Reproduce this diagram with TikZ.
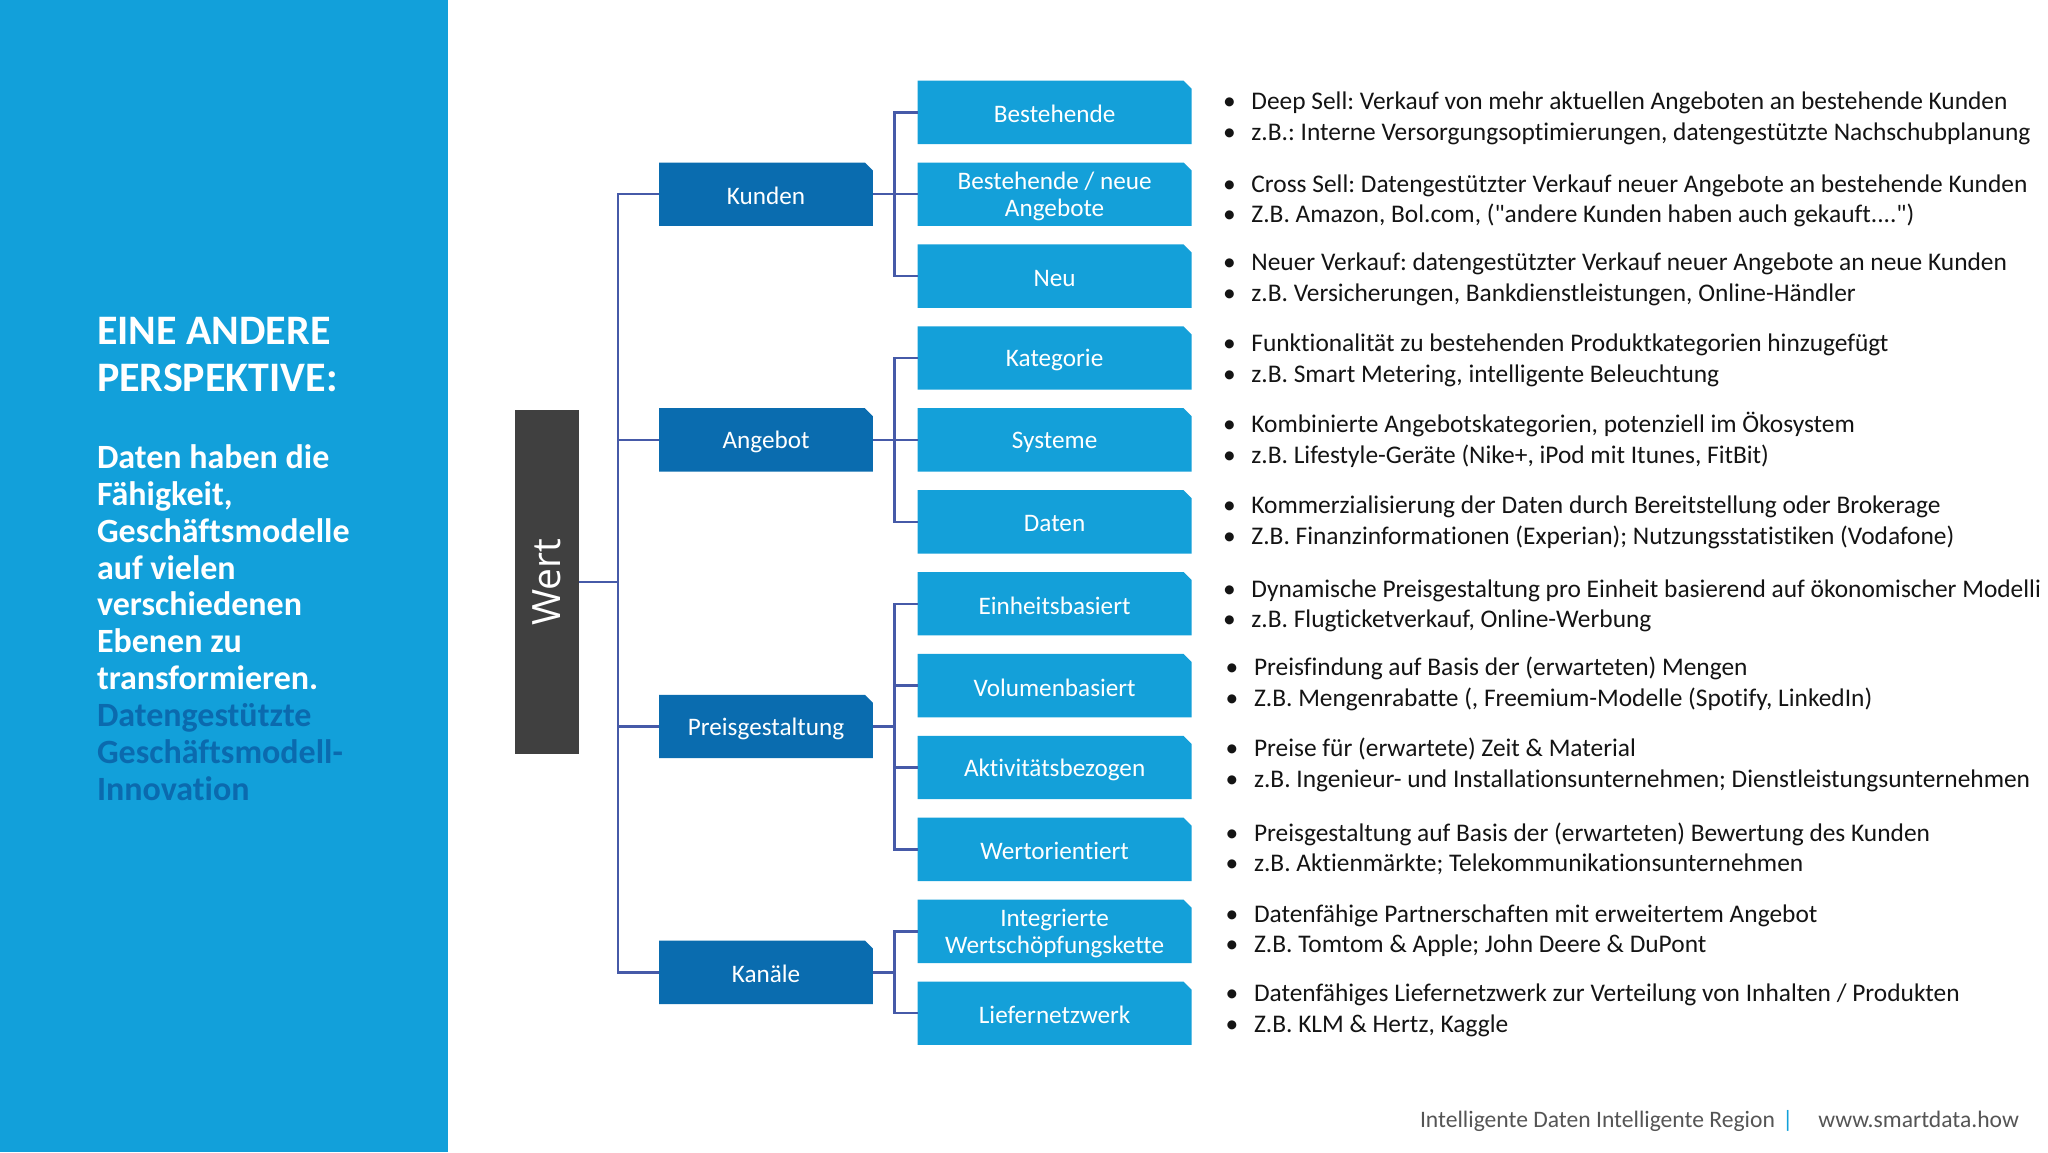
\documentclass[tikz,border=0pt]{standalone}
\usepackage{fontspec}
\setmainfont{Carlito}[Ligatures={TeXOff,NoCommon}]
\newfontfamily\wertfont{Open Sans}
\usetikzlibrary{backgrounds,calc}
\frenchspacing
\definecolor{panel}{RGB}{18,160,218}
\definecolor{lvltwo}{RGB}{20,160,217}
\definecolor{lvlone}{RGB}{10,108,175}
\definecolor{darkline}{RGB}{11,106,174}
\definecolor{wertgrey}{RGB}{64,64,64}
\definecolor{conn}{RGB}{70,90,168}
\definecolor{bodytext}{RGB}{20,20,20}
\definecolor{foot}{RGB}{85,85,85}
\tikzset{
  boxbase/.style={rectangle, inner sep=0pt, text=white, align=center,
    font=\fontsize{12.6}{13.7}\selectfont},
  lone/.style={boxbase, minimum width=106.5pt, minimum height=31.3pt},
  ltwo/.style={boxbase, minimum width=136.5pt, minimum height=31.3pt},
  conline/.style={draw=conn, line width=1.2pt},
  boxconn/.style={conline, transform canvas={yshift=1pt}},
  bul/.style={anchor=base west, inner sep=0pt, text=bodytext,
    font=\fontsize{12.7}{15}\selectfont},
  titletext/.style={anchor=base west, inner sep=0pt, text=white,
    font=\fontsize{21}{23}\selectfont\bfseries},
  lefttext/.style={anchor=base west, inner sep=0pt, text=white,
    font=\fontsize{17}{19}\selectfont\bfseries},
  foottext/.style={anchor=base west, inner sep=0pt, text=foot,
    font=\fontsize{11.8}{13}\selectfont},
}
\newcommand\chfill[2]{\fill[#2] ([yshift=1pt]#1.south west) -- ([yshift=1pt]#1.south east) -- ([yshift=-3pt]#1.north east) -- ([xshift=-4pt,yshift=1pt]#1.north east) -- ([yshift=1pt]#1.north west) -- cycle;}
\newcommand\bline[4]{\node[bul] (#1) at (#2,#3) {\hbox to 14.2pt{\textbullet\hss}#4};}
\begin{document}
\begin{tikzpicture}[x=0.5pt,y=-0.5pt]
\useasboundingbox (0,0) rectangle (2048,1152);
\clip (0,0) rectangle (2048,1152);

% left text
\node[titletext] (t1) at (96.6,344) {EINE ANDERE};
\node[titletext] (t2) at (96.6,391) {PERSPEKTIVE:};
\node[lefttext] (l1) at (96.6,468.4) {Daten haben die};
\node[lefttext] (l2) at (96.6,505.3) {Fähigkeit,};
\node[lefttext] (l3) at (96.6,542.1) {Geschäftsmodelle};
\node[lefttext] (l4) at (96.6,579.0) {auf vielen};
\node[lefttext] (l5) at (96.6,615.8) {verschiedenen};
\node[lefttext] (l6) at (96.6,652.7) {Ebenen zu};
\node[lefttext] (l7) at (96.6,689.6) {transformieren.};
\node[lefttext, text=darkline] (l8) at (96.6,726.4) {Datengestützte};
\node[lefttext, text=darkline] (l9) at (96.6,763.3) {Geschäftsmodell-};
\node[lefttext, text=darkline] (l10) at (96.6,800.1) {Innovation};

% Wert
\node[rectangle, inner sep=0pt, minimum width=32pt, minimum height=171.8pt, fill=wertgrey] (wert) at (546.6,582) {};
\node[rotate=90, text=white, inner sep=0pt, font=\wertfont\fontsize{19.5}{20}\selectfont] (wertlabel) at (wert.center) {Wert};

% level 1 (node text placed 2px lower than box fill)
\node[lone] (kunden) at (766,196.2) {Kunden};
\node[lone] (angebot) at (766,441.9) {Angebot};
\node[lone] (preis) at (766,728.5) {Preisgestaltung};
\node[lone] (kanaele) at (766,974.3) {Kanäle};

% level 2
\node[ltwo] (best) at (1054.6,114.3) {Bestehende};
\node[ltwo] (bestneu) at (1054.6,196.2) {Bestehende / neue\\Angebote};
\node[ltwo] (neu) at (1054.6,278.1) {Neu};
\node[ltwo] (kat) at (1054.6,360.0) {Kategorie};
\node[ltwo] (sys) at (1054.6,441.9) {Systeme};
\node[ltwo] (daten) at (1054.6,523.8) {Daten};
\node[ltwo] (einh) at (1054.6,605.7) {Einheitsbasiert};
\node[ltwo] (vol) at (1054.6,687.6) {Volumenbasiert};
\node[ltwo] (akt) at (1054.6,769.5) {Aktivitätsbezogen};
\node[ltwo] (wertor) at (1054.6,851.4) {Wertorientiert};
\node[ltwo] (integ) at (1054.6,933.3) {Integrierte\\Wertschöpfungskette};
\node[ltwo] (liefer) at (1054.6,1015.2) {Liefernetzwerk};

\begin{scope}[on background layer]
\fill[white] (0,0) rectangle (2048,1152);
\fill[panel] (0,0) rectangle (448,1152);
\chfill{kunden}{lvlone}
\chfill{angebot}{lvlone}
\chfill{preis}{lvlone}
\chfill{kanaele}{lvlone}
\foreach \n in {best,bestneu,neu,kat,sys,daten,einh,vol,akt,wertor,integ,liefer}{\chfill{\n}{lvltwo}}
\end{scope}

% connectors
\coordinate (tk) at (617.7,0);
\coordinate (tkb) at (894.6,0);
\draw[conline] (wert.east) -- (wert.east -| tk);
\draw[boxconn] (kunden.west) -| (tk |- kanaele.west) -- (kanaele.west);
\draw[boxconn] (angebot.west) -- (angebot.west -| tk);
\draw[boxconn] (preis.west) -- (preis.west -| tk);

\draw[boxconn] (kunden.east) -- (kunden.east -| tkb);
\draw[boxconn] (best.west) -| (tkb |- neu.west) -- (neu.west);
\draw[boxconn] (bestneu.west) -- (bestneu.west -| tkb);

\draw[boxconn] (angebot.east) -- (angebot.east -| tkb);
\draw[boxconn] (kat.west) -| (tkb |- daten.west) -- (daten.west);
\draw[boxconn] (sys.west) -- (sys.west -| tkb);

\draw[boxconn] (preis.east) -- (preis.east -| tkb);
\draw[boxconn] (einh.west) -| (tkb |- wertor.west) -- (wertor.west);
\draw[boxconn] (vol.west) -- (vol.west -| tkb);
\draw[boxconn] (akt.west) -- (akt.west -| tkb);

\draw[boxconn] (kanaele.east) -- (kanaele.east -| tkb);
\draw[boxconn] (integ.west) -| (tkb |- liefer.west) -- (liefer.west);

% bullet text
\bline{b1a}{1222.6}{109.9}{Deep Sell: Verkauf von mehr aktuellen Angeboten an bestehende Kunden}
\bline{b1b}{1222.6}{140.6}{z.B.: Interne Versorgungsoptimierungen, datengestützte Nachschubplanung}
\bline{b2a}{1222.6}{192.1}{Cross Sell: Datengestützter Verkauf neuer Angebote an bestehende Kunden}
\bline{b2b}{1222.6}{222.8}{Z.B. Amazon, Bol.com, ("andere Kunden haben auch gekauft....")}
\bline{b3a}{1222.6}{270.5}{Neuer Verkauf: datengestützter Verkauf neuer Angebote an neue Kunden}
\bline{b3b}{1222.6}{301.2}{z.B. Versicherungen, Bankdienstleistungen, Online-Händler}
\bline{b4a}{1222.6}{351.5}{Funktionalität zu bestehenden Produktkategorien hinzugefügt}
\bline{b4b}{1222.6}{382.2}{z.B. Smart Metering, intelligente Beleuchtung}
\bline{b5a}{1222.6}{432.4}{Kombinierte Angebotskategorien, potenziell im Ökosystem}
\bline{b5b}{1222.6}{463.1}{z.B. Lifestyle-Geräte (Nike+, iPod mit Itunes, FitBit)}
\bline{b6a}{1222.6}{513.4}{Kommerzialisierung der Daten durch Bereitstellung oder Brokerage}
\bline{b6b}{1222.6}{544.1}{Z.B. Finanzinformationen (Experian); Nutzungsstatistiken (Vodafone)}
\bline{b7a}{1222.6}{597.0}{Dynamische Preisgestaltung pro Einheit basierend auf ökonomischer Modelli}
\bline{b7b}{1222.6}{627.7}{z.B. Flugticketverkauf, Online-Werbung}
\bline{b8a}{1225.2}{675.4}{Preisfindung auf Basis der (erwarteten) Mengen}
\bline{b8b}{1225.2}{706.1}{Z.B. Mengenrabatte (, Freemium-Modelle (Spotify, LinkedIn)}
\bline{b9a}{1225.2}{756.3}{Preise für (erwartete) Zeit \& Material}
\bline{b9b}{1225.2}{787.0}{z.B. Ingenieur- und Installationsunternehmen; Dienstleistungsunternehmen}
\bline{b10a}{1225.2}{841.2}{Preisgestaltung auf Basis der (erwarteten) Bewertung des Kunden}
\bline{b10b}{1225.2}{871.9}{z.B. Aktienmärkte; Telekommunikationsunternehmen}
\bline{b11a}{1225.2}{922.2}{Datenfähige Partnerschaften mit erweitertem Angebot}
\bline{b11b}{1225.2}{952.9}{Z.B. Tomtom \& Apple; John Deere \& DuPont}
\bline{b12a}{1225.2}{1001.9}{Datenfähiges Liefernetzwerk zur Verteilung von Inhalten / Produkten}
\bline{b12b}{1225.2}{1032.6}{Z.B. KLM \& Hertz, Kaggle}

% footer
\node[foottext] (ft1) at (1419.6,1127) {Intelligente Daten Intelligente Region};
\node[foottext, text=panel] (ftbar) at (1782,1127) {|};
\node[foottext] (ft2) at (1818,1127) {www.smartdata.how};
\end{tikzpicture}
\end{document}
